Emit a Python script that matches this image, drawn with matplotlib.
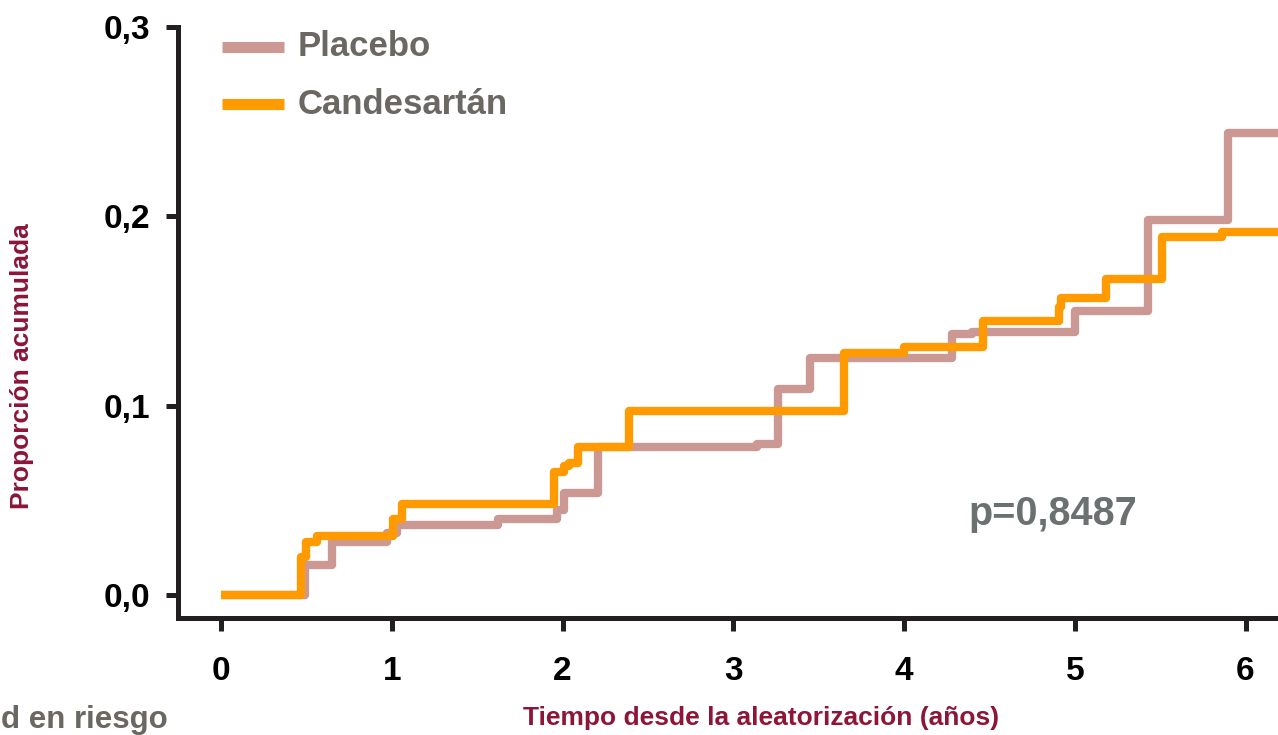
import numpy as np
import matplotlib.pyplot as plt

plt.rcParams['font.family'] = ['Liberation Sans', 'DejaVu Sans']
plt.rcParams['font.weight'] = 'bold'

# step curves (time in years, cumulative proportion)
placebo_t = [0, 0.49, 0.65, 0.97, 1.03, 1.62, 1.97, 2.01, 2.21, 3.14, 3.26, 3.45,
             4.28, 4.40, 5.00, 5.43, 5.90, 6.19]
placebo_y = [0, 0.016, 0.028, 0.033, 0.037, 0.040, 0.045, 0.054, 0.078, 0.080,
             0.109, 0.125, 0.138, 0.139, 0.150, 0.198, 0.244, 0.244]

cand_t = [0, 0.47, 0.50, 0.56, 1.01, 1.06, 1.95, 2.01, 2.04, 2.09, 2.39, 3.65,
          4.00, 4.46, 4.91, 4.92, 5.18, 5.51, 5.86, 6.19]
cand_y = [0, 0.020, 0.028, 0.031, 0.040, 0.048, 0.065, 0.068, 0.070, 0.078,
          0.097, 0.128, 0.131, 0.145, 0.152, 0.157, 0.167, 0.189, 0.192, 0.192]

xticks = [0, 1, 2, 3, 4, 5, 6]
yticks = [0.0, 0.1, 0.2, 0.3]
ylabels = ['0,0', '0,1', '0,2', '0,3']

c_placebo = '#cc9893'
c_cand = '#ff9a00'
c_axis = '#231f20'
c_gray = '#6b6762'
c_red = '#8c1538'

fig = plt.figure(figsize=(12.78, 7.35), dpi=100)
ax = fig.add_axes([178 / 1278, 1 - 618 / 735, 1 - 178 / 1278, (618 - 27) / 735])

ax.step(placebo_t, placebo_y, where='post', color=c_placebo, lw=6,
        solid_joinstyle='round', solid_capstyle='butt')
ax.step(cand_t, cand_y, where='post', color=c_cand, lw=6,
        solid_joinstyle='round', solid_capstyle='butt')

ax.set_xlim(-0.252, 6.19)
ax.set_ylim(-0.0121, 0.3)

for s in ['top', 'right']:
    ax.spines[s].set_visible(False)
for s in ['left', 'bottom']:
    ax.spines[s].set_linewidth(3.6)
    ax.spines[s].set_color(c_axis)

ax.set_xticks(xticks)
ax.set_xticklabels([str(v) for v in xticks])
ax.set_yticks(yticks)
ax.set_yticklabels(ylabels)
ax.tick_params(axis='x', length=9, width=3.6, color=c_axis, pad=18,
               labelsize=24, labelcolor='black')
ax.tick_params(axis='y', length=9, width=3.6, color=c_axis, pad=11,
               labelsize=24, labelcolor='black')

# legend drawn by hand
fig.add_artist(plt.Line2D([222 / 1278, 284 / 1278], [1 - 47 / 735, 1 - 47 / 735],
                          color=c_placebo, lw=8, solid_capstyle='butt'))
fig.add_artist(plt.Line2D([222 / 1278, 284 / 1278], [1 - 104 / 735, 1 - 104 / 735],
                          color=c_cand, lw=8, solid_capstyle='butt'))
fig.text(298 / 1278, 1 - 47 / 735, 'Placebo', color=c_gray, fontsize=25,
         fontweight='bold', va='center', ha='left')
fig.text(298 / 1278, 1 - 104 / 735, 'Candesartán', color=c_gray, fontsize=25,
         fontweight='bold', va='center', ha='left')

fig.text(968 / 1278, 1 - 514 / 735, 'p=0,8487', color='#6b7071', fontsize=28.5,
         fontweight='bold', va='center', ha='left')

fig.text(22 / 1278, 1 - 366 / 735, 'Proporción acumulada', color=c_red, fontsize=19,
         fontweight='bold', rotation=90, va='center', ha='center')
fig.text(761 / 1278, 1 - 718 / 735, 'Tiempo desde la aleatorización (años)',
         color=c_red, fontsize=19, fontweight='bold', va='center', ha='center')
fig.text(168 / 1278, 1 - 720 / 735, 'd en riesgo', color=c_gray, fontsize=22.5,
         fontweight='bold', va='center', ha='right')

fig.savefig('out.png', dpi=100)
